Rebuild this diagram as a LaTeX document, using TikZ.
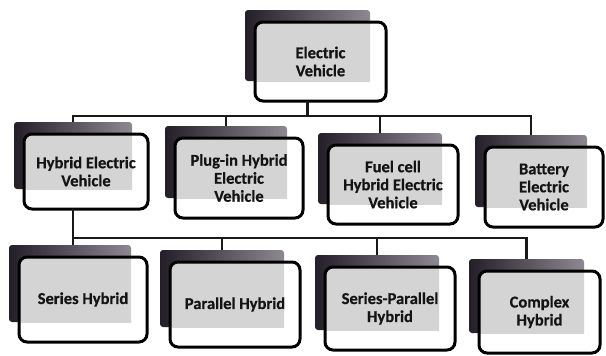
\documentclass[tikz,border=0pt]{standalone}
\usepackage{fontspec}
\setmainfont{Carlito}[BoldFeatures={FakeBold=0.6}]
\definecolor{shadL}{HTML}{241E28}
\definecolor{shadR}{HTML}{8E8892}
\definecolor{boxgray}{HTML}{D4D4D4}
\definecolor{textc}{HTML}{141414}
\tikzset{
  shadowbox/.style={rectangle, rounded corners=3pt, left color=shadL, right color=shadR, inner sep=0pt, outer sep=0pt},
  frontbox/.style={rectangle, rounded corners=8pt, draw=black, line width=3pt, align=center,
     font=\fontsize{16.5}{18}\selectfont\bfseries, text=textc, inner sep=2pt, outer sep=0pt},
  conn/.style={line width=2.8pt, draw=black!90},
}
% #1 name, #2 left, #3 top, #4 right, #5 bottom, #6 text
\newcommand\evbox[6]{%
  \pgfmathsetmacro\evsx{(#2-10+#4-16)/2}%
  \pgfmathsetmacro\evsy{(#3-12+#5-20)/2}%
  \pgfmathsetmacro\evsw{(#4-16)-(#2-10)}%
  \pgfmathsetmacro\evsh{(#5-20)-(#3-12)}%
  \pgfmathsetmacro\evfx{(#2+#4)/2}%
  \pgfmathsetmacro\evfy{(#3+#5)/2}%
  \pgfmathsetmacro\evfw{#4-#2}%
  \pgfmathsetmacro\evfh{#5-#3}%
  \node[shadowbox, minimum width=\evsw pt, minimum height=\evsh pt] (#1S) at (\evsx,\evsy) {};
  \fill[white, rounded corners=8pt] (#2,#3) rectangle (#4,#5);
  \begin{scope}
    \clip (#2-10,#3-12) rectangle (#4-16,#5-20);
    \fill[boxgray, rounded corners=8pt] (#2,#3) rectangle (#4,#5);
  \end{scope}
  \node[frontbox, minimum width=\evfw pt, minimum height=\evfh pt] (#1) at (\evfx,\evfy) {#6};
}
\begin{document}
\begin{tikzpicture}[x=1pt,y=-1pt]
  \fill[white] (0,0) rectangle (606,356);
  \useasboundingbox (0,0) rectangle (606,356);

  \evbox{ev}{255}{22}{386}{101}{Electric\\Vehicle}
  \evbox{hev}{24}{134}{148}{209}{Hybrid Electric\\Vehicle}
  \evbox{phev}{175}{138}{303}{218}{Plug-in Hybrid\\Electric\\Vehicle}
  \evbox{fchev}{328}{145}{458}{224}{Fuel cell\\Hybrid Electric\\Vehicle}
  \evbox{bev}{485}{147}{603}{227}{Battery\\Electric\\Vehicle}
  \evbox{sh}{19}{257}{147}{342}{Series Hybrid}
  \evbox{ph}{170}{262}{300}{347}{Parallel Hybrid}
  \evbox{sph}{325}{267}{455}{350}{Series-Parallel\\Hybrid}
  \evbox{ch}{479}{271}{600}{353}{Complex\\Hybrid}

  \coordinate (busA) at (0,116);
  \coordinate (busB) at (0,238);

  % level 1 -> level 2
  \draw[conn] (ev.south -| evS) -- (busA -| evS);
  \draw[conn, line cap=rect] (busA -| hevS) -- (busA -| bevS);
  \draw[conn] (busA -| hevS) -- (hevS.north);
  \draw[conn] (busA -| phevS) -- (phevS.north);
  \draw[conn] (busA -| fchevS) -- (fchevS.north);
  \draw[conn] (busA -| bevS) -- (bevS.north);

  % level 2 -> level 3
  \draw[conn] (hev.south -| hevS) -- (shS.north -| hevS);
  \draw[conn, line cap=rect] (busB -| hevS) -- (busB -| chS);
  \draw[conn] (busB -| phS) -- (phS.north);
  \draw[conn] (busB -| sphS) -- (sphS.north);
  \draw[conn] (busB -| chS) -- (chS.north);
\end{tikzpicture}
\end{document}
